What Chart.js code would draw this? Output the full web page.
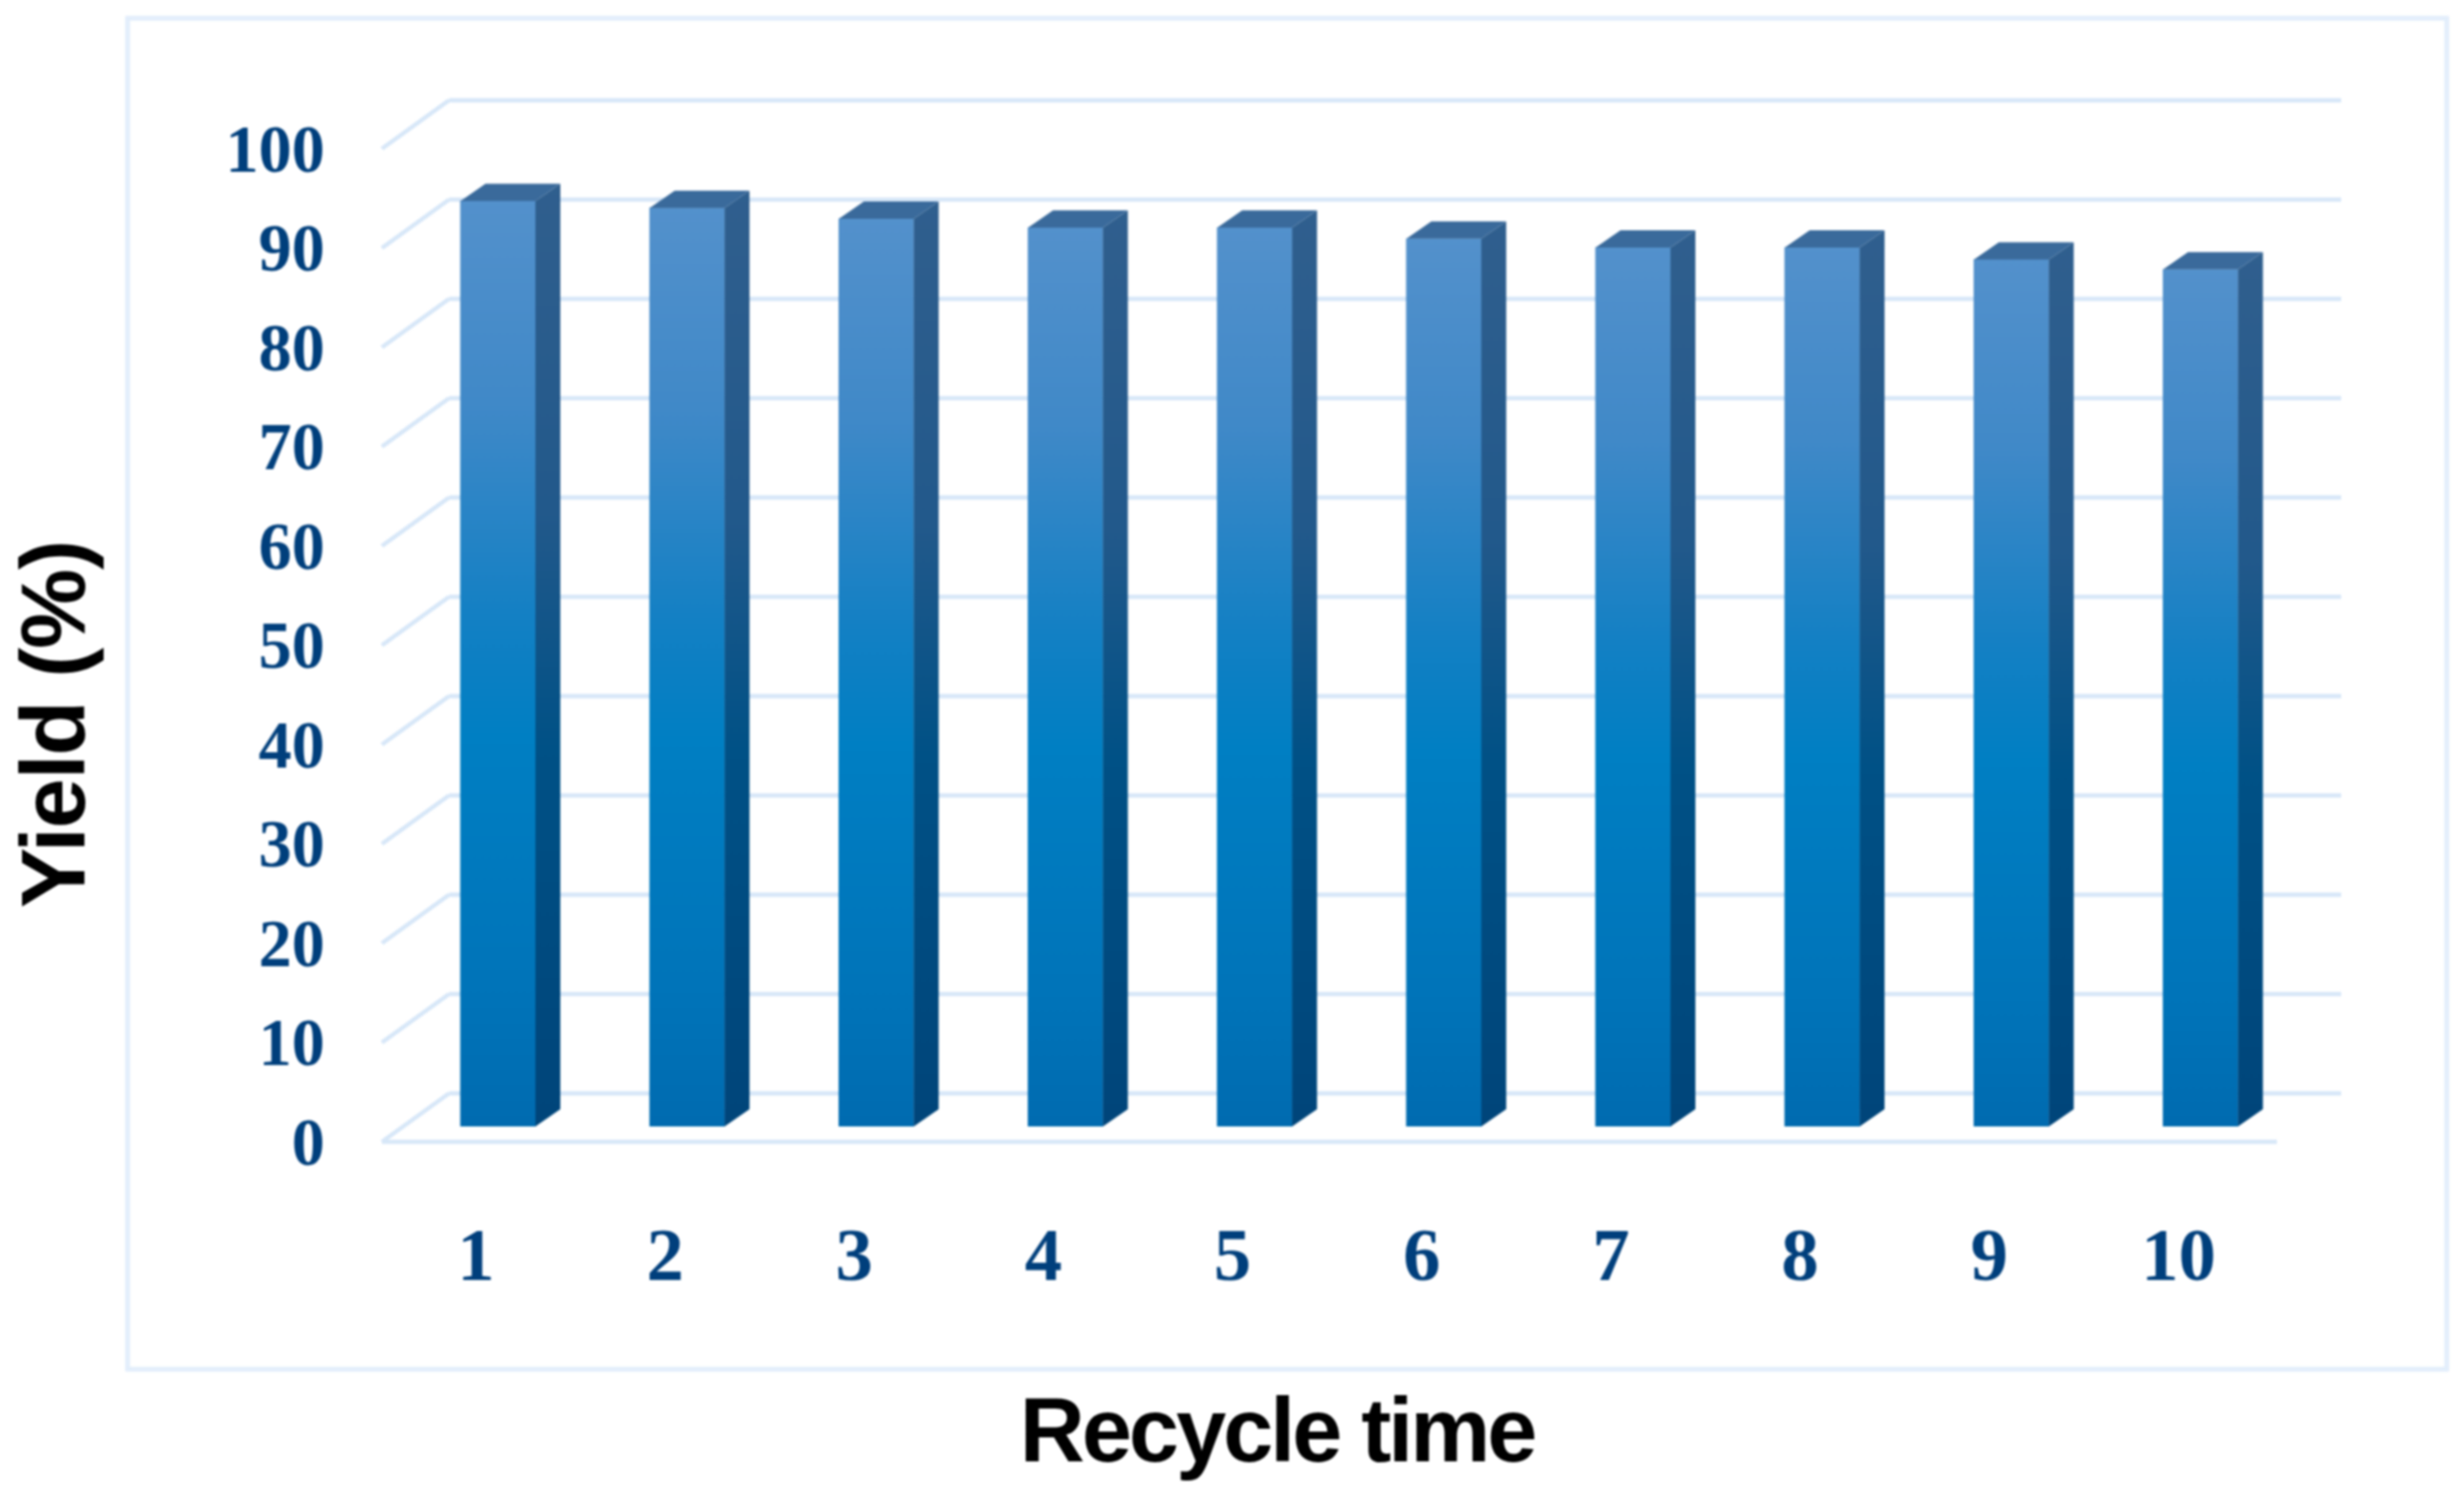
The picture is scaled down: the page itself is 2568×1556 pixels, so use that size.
<!DOCTYPE html>
<html>
<head>
<meta charset="utf-8">
<title>Yield vs recycle time</title>
<script src="https://cdn.jsdelivr.net/npm/chart.js@4"></script>
<style>
    html, body { margin: 0; padding: 0; background: #fff; }
    canvas { display: block; filter: blur(0.9px); }
</style>
</head>
<body>
<canvas id="yieldChart" width="2568" height="1556"></canvas>
<script>
// Datos
const recycleTimes = ["1", "2", "3", "4", "5", "6", "7", "8", "9", "10"];
const yieldValues = [93.2, 92.5, 91.4, 90.5, 90.5, 89.4, 88.5, 88.5, 87.3, 86.3];
const yTickLabels = ["0", "10", "20", "30", "40", "50", "60", "70", "80", "90", "100"];
const xTitle = "Recycle time";
const yTitle = "Yield (%)";

const GRID_COLOR = "#d7e7f8";
const FRAME_COLOR = "#e2eefb";
const TICK_COLOR = "#003f7c";

// Desplazamientos de la perspectiva 3D
const BAR_DEPTH_X = 26;
const BAR_DEPTH_Y = 18;
const WALL_LEFT = 468;
const WALL_RIGHT = 2440;
const WALL_DY = -34.5;
const FRONT_LEFT = 398;
const FRONT_RIGHT = 2373;
const FRONT_DY = 16;

function segment(ctx, x1, y1, x2, y2) {
    ctx.beginPath();
    ctx.moveTo(x1, y1);
    ctx.lineTo(x2, y2);
    ctx.stroke();
}

function polygon(ctx, points, fill) {
    ctx.fillStyle = fill;
    ctx.beginPath();
    points.forEach((p, i) => (i ? ctx.lineTo(p[0], p[1]) : ctx.moveTo(p[0], p[1])));
    ctx.closePath();
    ctx.fill();
}

// Degradado vertical de la cara frontal
function frontGradient(context) {
    const { chart } = context;
    const y = chart.scales.y;
    // En la primera pasada la escala todavía no tiene tamaño
    if (!chart.chartArea || !y || context.raw === undefined) return "#0074b9";
    const g = chart.ctx.createLinearGradient(0, y.getPixelForValue(context.raw), 0, y.getPixelForValue(0));
    g.addColorStop(0, "#5391cc");
    g.addColorStop(0.22, "#4089c8");
    g.addColorStop(0.45, "#1380c4");
    g.addColorStop(0.58, "#007fc3");
    g.addColorStop(0.85, "#0074b9");
    g.addColorStop(1, "#006bb0");
    return g;
}

// Marco, paredes y suelo por detrás de las barras
const wallPlugin = {
    id: "wall",
    beforeDatasetsDraw(chart) {
        const ctx = chart.ctx;
        const y = chart.scales.y;
        ctx.save();
        ctx.strokeStyle = FRAME_COLOR;
        ctx.lineWidth = 5;
        ctx.strokeRect(133, 19, 2417, 1408);

        ctx.strokeStyle = GRID_COLOR;
        ctx.lineWidth = 4.5;
        yTickLabels.forEach((label) => {
            const py = y.getPixelForValue(Number(label));
            segment(ctx, WALL_LEFT, py + WALL_DY, WALL_RIGHT, py + WALL_DY);
            segment(ctx, FRONT_LEFT, py + FRONT_DY, WALL_LEFT, py + WALL_DY);
        });
        const py0 = y.getPixelForValue(0) + FRONT_DY;
        segment(ctx, FRONT_LEFT, py0, FRONT_RIGHT, py0);
        ctx.restore();
    }
};

// Caras lateral y superior de cada barra
const depthPlugin = {
    id: "depth",
    afterDatasetsDraw(chart) {
        const ctx = chart.ctx;
        ctx.save();
        chart.getDatasetMeta(0).data.forEach((bar) => {
            const { x, y, base, width } = bar.getProps(["x", "y", "base", "width"], true);
            const left = x - width / 2;
            const right = x + width / 2;

            const side = ctx.createLinearGradient(0, y - BAR_DEPTH_Y, 0, base);
            side.addColorStop(0, "#305f8e");
            side.addColorStop(0.35, "#22598b");
            side.addColorStop(0.6, "#005186");
            side.addColorStop(1, "#00457a");
            polygon(ctx, [
                [right, y],
                [right + BAR_DEPTH_X, y - BAR_DEPTH_Y],
                [right + BAR_DEPTH_X, base - BAR_DEPTH_Y],
                [right, base]
            ], side);

            polygon(ctx, [
                [left, y],
                [left + BAR_DEPTH_X, y - BAR_DEPTH_Y],
                [right + BAR_DEPTH_X, y - BAR_DEPTH_Y],
                [right, y]
            ], "#3a6a9b");
        });
        ctx.restore();
    }
};

// Títulos de los ejes, descentrados respecto al área del gráfico
const titlesPlugin = {
    id: "titles",
    afterDraw(chart) {
        const ctx = chart.ctx;
        ctx.save();
        ctx.fillStyle = "#000";
        ctx.font = 'bold 94px "Liberation Sans"';
        ctx.textAlign = "center";
        ctx.textBaseline = "alphabetic";

        ctx.letterSpacing = "-3.2px";
        ctx.fillText(xTitle, 1331, 1523);

        ctx.letterSpacing = "-1.2px";
        ctx.translate(88, 755);
        ctx.rotate(-Math.PI / 2);
        ctx.fillText(yTitle, 0, 0);
        ctx.restore();
    }
};

new Chart(document.getElementById("yieldChart"), {
    type: "bar",
    data: {
        labels: recycleTimes,
        datasets: [{
            label: "Yield (%)",
            data: yieldValues,
            backgroundColor: frontGradient,
            borderWidth: 0,
            barThickness: 78
        }]
    },
    plugins: [wallPlugin, depthPlugin, titlesPlugin],
    options: {
        responsive: false,
        animation: false,
        layout: { padding: { top: 139, right: 176, bottom: 0, left: 0 } },
        plugins: {
            legend: { display: false },
            tooltip: { enabled: false }
        },
        scales: {
            x: {
                grid: { display: false },
                border: { display: false },
                ticks: {
                    color: TICK_COLOR,
                    font: { family: "Liberation Serif", weight: "bold", size: 78 },
                    padding: 85,
                    labelOffset: -23,
                    maxRotation: 0,
                    autoSkip: false
                },
                afterFit(scale) { scale.height = 382; }
            },
            y: {
                min: 0,
                max: 100,
                grid: { display: false },
                border: { display: false },
                ticks: {
                    stepSize: 10,
                    color: TICK_COLOR,
                    font: { family: "Liberation Serif", weight: "bold", size: 69 },
                    padding: 74,
                    labelOffset: 22,
                    callback: (value, index) => yTickLabels[index]
                },
                afterFit(scale) { scale.width = 420.4; }
            }
        }
    }
});
</script>
</body>
</html>
